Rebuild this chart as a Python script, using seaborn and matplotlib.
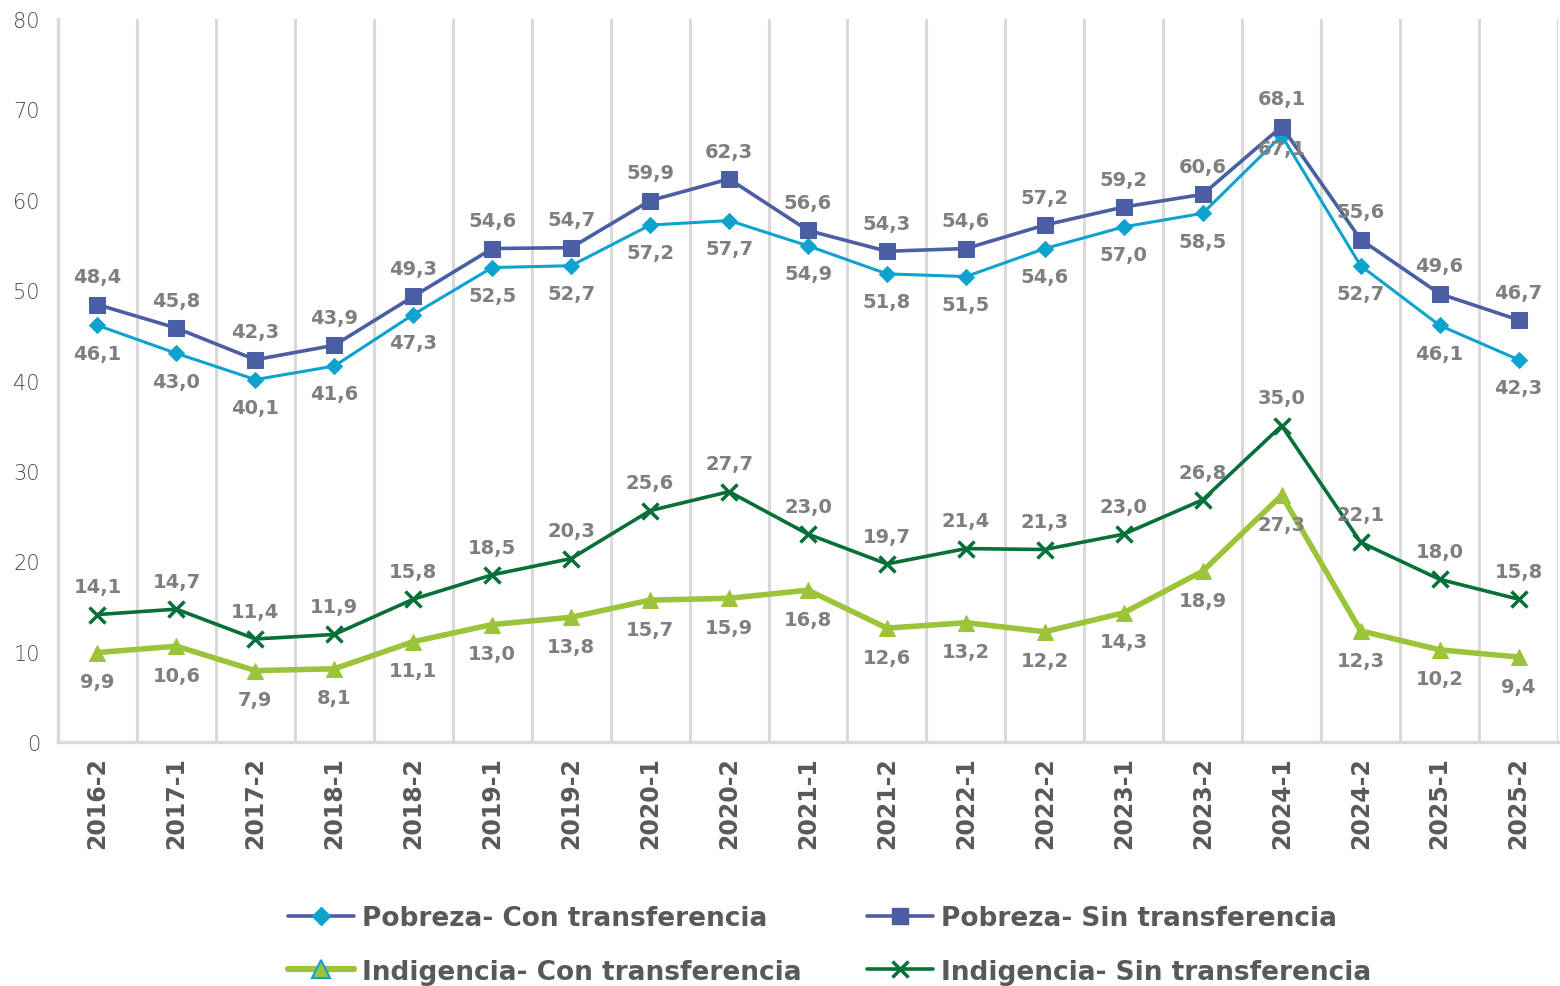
import matplotlib
matplotlib.use("Agg")
import matplotlib.pyplot as plt
from matplotlib.lines import Line2D
from matplotlib.ticker import FixedLocator
import numpy as np
import pandas as pd
import seaborn as sns

# --- data ---
periodos = ["2016-2", "2017-1", "2017-2", "2018-1", "2018-2", "2019-1", "2019-2",
            "2020-1", "2020-2", "2021-1", "2021-2", "2022-1", "2022-2", "2023-1",
            "2023-2", "2024-1", "2024-2", "2025-1", "2025-2"]
pobreza_con = [46.1, 43.0, 40.1, 41.6, 47.3, 52.5, 52.7, 57.2, 57.7, 54.9,
               51.8, 51.5, 54.6, 57.0, 58.5, 67.1, 52.7, 46.1, 42.3]
pobreza_sin = [48.4, 45.8, 42.3, 43.9, 49.3, 54.6, 54.7, 59.9, 62.3, 56.6,
               54.3, 54.6, 57.2, 59.2, 60.6, 68.1, 55.6, 49.6, 46.7]
indigencia_con = [9.9, 10.6, 7.9, 8.1, 11.1, 13.0, 13.8, 15.7, 15.9, 16.8,
                  12.6, 13.2, 12.2, 14.3, 18.9, 27.3, 12.3, 10.2, 9.4]
indigencia_sin = [14.1, 14.7, 11.4, 11.9, 15.8, 18.5, 20.3, 25.6, 27.7, 23.0,
                  19.7, 21.4, 21.3, 23.0, 26.8, 35.0, 22.1, 18.0, 15.8]
y_ticks = [0, 10, 20, 30, 40, 50, 60, 70, 80]

C_POB_CON = "#0ea2cf"
C_POB_SIN = "#4b5ea3"
C_IND_CON = "#9cc43a"
C_IND_SIN = "#077038"
GRID = "#d9d9d9"
TXT = "#595959"
LBL = "#7f7f7f"

sns.set_style("white")
plt.rcParams["font.family"] = ["DejaVu Sans"]

df = pd.DataFrame({
    "x": np.arange(len(periodos)),
    "periodo": periodos,
    "pobreza_con": pobreza_con,
    "pobreza_sin": pobreza_sin,
    "indigencia_con": indigencia_con,
    "indigencia_sin": indigencia_sin,
})

fig = plt.figure(figsize=(15.6, 9.87), dpi=100)
ax = fig.add_axes([58 / 1560, 1 - 743 / 987, 1500 / 1560, 723 / 987])

series = [
    ("indigencia_con", C_IND_CON, "^", 11, 4.0, dict(mfc=C_IND_CON, mec=C_IND_CON)),
    ("indigencia_sin", C_IND_SIN, "x", 11, 2.6, dict(mec=C_IND_SIN, mew=2.5)),
    ("pobreza_con", C_POB_CON, "D", 8, 2.2, dict(mfc=C_POB_CON, mec=C_POB_CON)),
    ("pobreza_sin", C_POB_SIN, "s", 11, 2.6, dict(mfc=C_POB_SIN, mec=C_POB_SIN)),
]
for col, color, mk, ms, lw, extra in series:
    sns.lineplot(data=df, x="x", y=col, ax=ax, color=color, marker=mk,
                 markersize=ms, linewidth=lw, zorder=3, **extra)

def fmt(v):
    return f"{v:.1f}".replace(".", ",")

lbl_kw = dict(textcoords="offset points", ha="center", va="center",
              fontsize=14, fontweight="bold", color=LBL, zorder=5)
for i in range(len(periodos)):
    ax.annotate(fmt(pobreza_sin[i]), (i, pobreza_sin[i]), xytext=(0, 20), **lbl_kw)
    dy = -9 if periodos[i] == "2024-1" else -20
    ax.annotate(fmt(pobreza_con[i]), (i, pobreza_con[i]), xytext=(0, dy), **lbl_kw)
    ax.annotate(fmt(indigencia_sin[i]), (i, indigencia_sin[i]), xytext=(0, 20), **lbl_kw)
    ax.annotate(fmt(indigencia_con[i]), (i, indigencia_con[i]), xytext=(0, -21), **lbl_kw)

ax.set_xlim(-0.5, len(periodos) - 0.5)
ax.set_ylim(0, 80)
ax.set_yticks(y_ticks)
ax.set_yticklabels([str(t) for t in y_ticks], fontsize=15, color="#4a4a4a", fontweight="light")
ax.set_xticks(df["x"])
ax.set_xticklabels(periodos, rotation=90, fontsize=17, fontweight="bold", color=TXT)
ax.xaxis.set_minor_locator(FixedLocator(np.arange(-0.5, len(periodos), 1.0)))
ax.grid(False)
ax.grid(axis="x", which="minor", color=GRID, linewidth=2.2)
ax.tick_params(axis="both", which="both", length=0)
ax.tick_params(axis="y", pad=13)
ax.tick_params(axis="x", pad=10)
ax.set_xlabel("")
ax.set_ylabel("")
for side in ["top", "right"]:
    ax.spines[side].set_visible(False)
for side in ["left", "bottom"]:
    ax.spines[side].set_color(GRID)
    ax.spines[side].set_linewidth(2.4)

handles = [
    Line2D([], [], color=C_POB_SIN, lw=2.6, marker="D", ms=9, mfc=C_POB_CON, mec=C_POB_CON),
    Line2D([], [], color=C_IND_CON, lw=4.5, marker="^", ms=13, mfc=C_IND_CON, mec=C_POB_CON, mew=1.5),
    Line2D([], [], color=C_POB_SIN, lw=2.6, marker="s", ms=12, mfc=C_POB_SIN, mec=C_POB_SIN),
    Line2D([], [], color=C_IND_SIN, lw=2.6, marker="x", ms=12, mew=2.5),
]
labels = ["Pobreza- Con transferencia", "Indigencia- Con transferencia",
          "Pobreza- Sin transferencia", "Indigencia- Sin transferencia"]
leg = fig.legend(handles, labels, ncol=2, loc="upper left",
                 bbox_to_anchor=(288 / 1560, 1 - 906 / 987), frameon=False,
                 prop={"size": 19, "weight": "bold"}, handlelength=2.5,
                 handletextpad=0.3, columnspacing=2.5, labelspacing=1.05,
                 borderpad=0, borderaxespad=0)
for t in leg.get_texts():
    t.set_color(TXT)

fig.savefig("out.png", dpi=100)
